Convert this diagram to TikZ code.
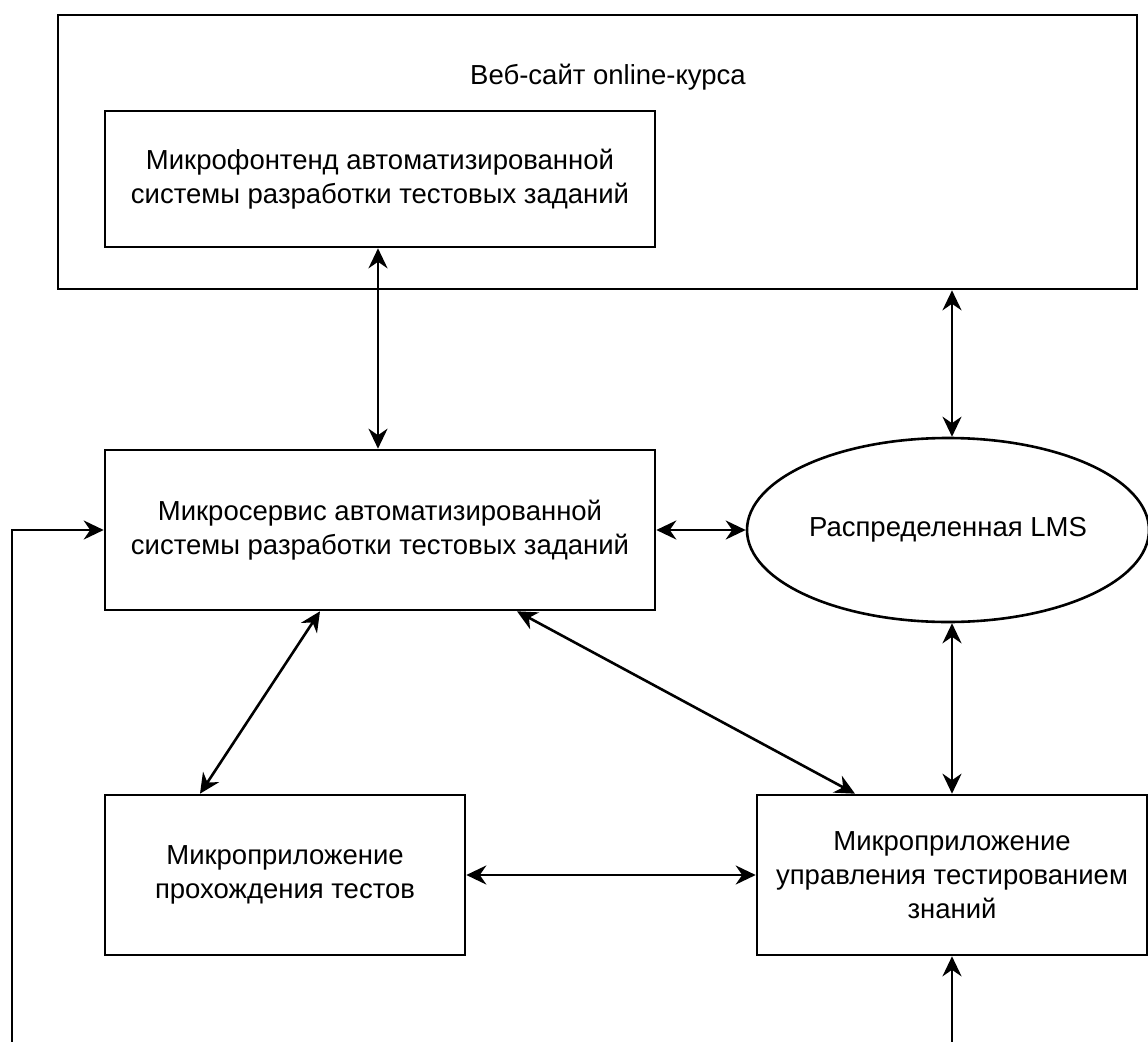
\documentclass[tikz,border=0pt]{standalone}
\usepackage{fontspec}
\setmainfont{Liberation Sans}
\usetikzlibrary{shapes.geometric,arrows.meta}
\begin{document}
\begin{tikzpicture}[x=1pt,y=-1pt,
  line width=2.6pt,
  every node/.style={font=\fontsize{27.5}{34}\selectfont, align=center},
  box/.style={draw, rectangle, inner sep=0pt},
  link/.style={{Stealth[length=20pt,width=19pt]}-{Stealth[length=20pt,width=19pt]}},
  onelink/.style={-{Stealth[length=20pt,width=19pt]}}]
\useasboundingbox (0,0) rectangle (1148,1041);
\clip (0,0) rectangle (1148,1041);

% website container and its caption
\node[box, minimum width=1079pt, minimum height=274pt] (site) at (597.5,152) {};
\node (sitecap) at (608,77) {Веб-сайт online-курса};

% components
\node[box, minimum width=550pt, minimum height=136pt] (front) at (380,179)
  {Микрофонтенд автоматизированной\\системы разработки тестовых заданий};
\node[box, minimum width=550pt, minimum height=160pt] (svc) at (380,530)
  {Микросервис автоматизированной\\системы разработки тестовых заданий};
\node[draw, ellipse, minimum width=402pt, minimum height=184pt, inner sep=0pt] (lms) at (948,530)
  {Распределенная LMS};
\node[box, minimum width=360pt, minimum height=160pt] (pass) at (285,875)
  {Микроприложение\\прохождения тестов};
\node[box, minimum width=390pt, minimum height=160pt] (mgmt) at (952,875)
  {Микроприложение\\управления тестированием\\знаний};

% free ends running off the lower edge
\coordinate (loopL) at (12,1060);
\coordinate (loopR) at (952,1060);

% connectors
\draw[link] (front.south -| 378,0) -- (svc.north -| 378,0);
\draw[link] (site.south -| 952,0) -- (lms.north -| 952,0);
\draw[link] (svc.east) -- (lms.west);
\draw[link] (lms.south -| 952,0) -- (mgmt.north -| 952,0);
\draw[link] (svc.south -| 320,0) -- (pass.north -| 200,0);
\draw[link] (svc.south -| 517,0) -- (mgmt.north -| 855,0);
\draw[link] (pass.east) -- (mgmt.west);
\draw[onelink] (loopL) |- (svc.west);
\draw[onelink] (loopR) -- (mgmt.south -| 952,0);
\end{tikzpicture}
\end{document}
